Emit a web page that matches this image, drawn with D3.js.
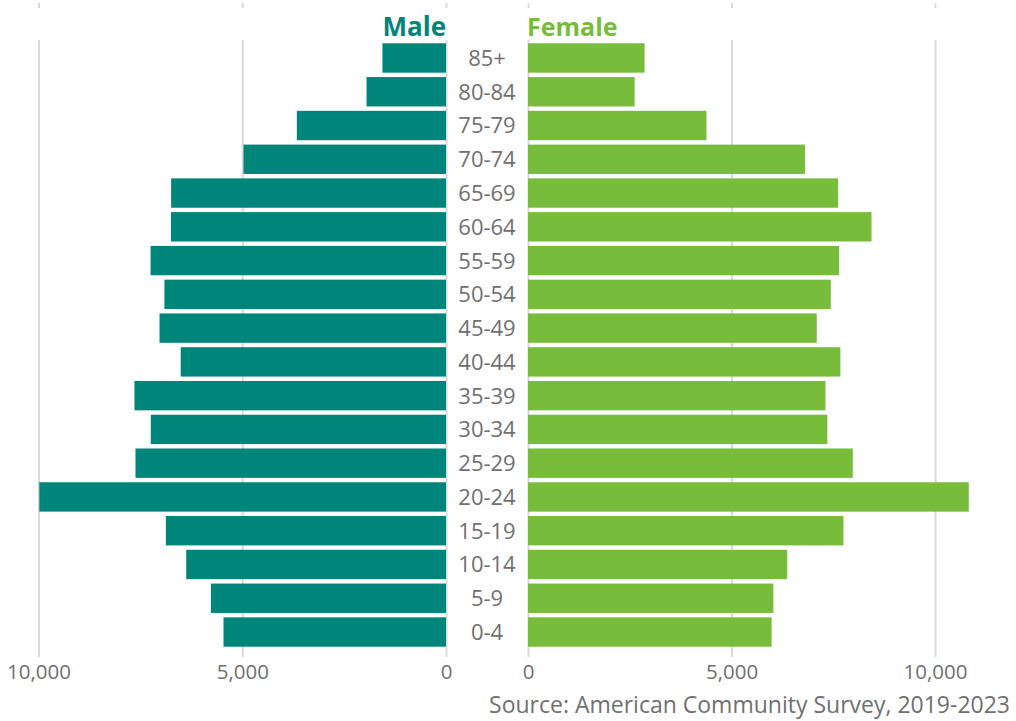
<!DOCTYPE html>
<html>
<head>
<meta charset="utf-8">
<script src="https://cdn.jsdelivr.net/npm/d3@7"></script>
<style>
  html, body { margin: 0; padding: 0; background: #ffffff; }
  svg { display: block; }
  text { font-family: "Open Sans", "Noto Sans", sans-serif; }
</style>
</head>
<body>
<svg id="chart" width="1016" height="721"></svg>
<script>
// Age groups, oldest at the top
const ageGroups = ["85+", "80-84", "75-79", "70-74", "65-69", "60-64", "55-59", "50-54",
  "45-49", "40-44", "35-39", "30-34", "25-29", "20-24", "15-19", "10-14", "5-9", "0-4"];

// Population counts by age group
const maleValues = [1560, 1950, 3660, 4970, 6745, 6750, 7250, 6910,
  7030, 6510, 7645, 7245, 7620, 9980, 6875, 6375, 5770, 5460];
const femaleValues = [2865, 2620, 4385, 6805, 7620, 8440, 7645, 7440,
  7095, 7675, 7310, 7355, 7980, 10830, 7750, 6370, 6030, 5985];

const tickValues = [0, 5000, 10000];
const seriesNames = ["Male", "Female"];
const sourceNote = "Source: American Community Survey, 2019-2023";

const colors = { male: "#00857a", female: "#78bc3b", text: "#707070", grid: "#d9d9d9" };

const svg = d3.select("#chart");

const xMale = d3.scaleLinear().domain([0, 10000]).range([446, 38.5]);
const xFemale = d3.scaleLinear().domain([0, 10000]).range([528, 935]);
const y = d3.scaleBand().domain(ageGroups).range([41.1, 648.9])
  .paddingInner(0.13).paddingOuter(0.065);

const gridTop = 40, gridBottom = 657;

// Vertical gridlines drawn by the axes
function gridAxis(scale) {
  return d3.axisBottom(scale).tickValues(tickValues)
    .tickSize(gridBottom - gridTop).tickFormat("");
}
[xMale, xFemale].forEach(sc => {
  const g = svg.append("g").attr("transform", `translate(0,${gridTop})`).call(gridAxis(sc));
  g.select(".domain").remove();
  g.selectAll(".tick line").attr("stroke", colors.grid).attr("stroke-width", 2);
  // short tick stubs along the top edge
  const t = svg.append("g").attr("transform", "translate(0,3)")
    .call(d3.axisBottom(sc).tickValues(tickValues).tickSize(5).tickFormat(""));
  t.select(".domain").remove();
  t.selectAll(".tick line").attr("stroke", colors.grid).attr("stroke-width", 2);
});

// Bars
svg.append("g").selectAll("rect").data(ageGroups).join("rect")
  .attr("x", (d, i) => xMale(maleValues[i]))
  .attr("y", d => y(d))
  .attr("width", (d, i) => xMale(0) - xMale(maleValues[i]))
  .attr("height", y.bandwidth())
  .attr("fill", colors.male);

svg.append("g").selectAll("rect").data(ageGroups).join("rect")
  .attr("x", xFemale(0))
  .attr("y", d => y(d))
  .attr("width", (d, i) => xFemale(femaleValues[i]) - xFemale(0))
  .attr("height", y.bandwidth())
  .attr("fill", colors.female);

// Age group labels in the middle gap
svg.append("g").selectAll("text").data(ageGroups).join("text")
  .attr("x", 487)
  .attr("y", d => y(d) + y.bandwidth() / 2)
  .attr("dy", "0.36em")
  .attr("text-anchor", "middle")
  .attr("font-size", 22)
  .attr("fill", colors.text)
  .text(d => d);

// Bottom tick labels
function labelAxis(scale) {
  const g = svg.append("g").attr("transform", "translate(0,657)")
    .call(d3.axisBottom(scale).tickValues(tickValues).tickSize(0).tickPadding(0)
      .tickFormat(d3.format(",")));
  g.select(".domain").remove();
  g.selectAll(".tick text")
    .attr("y", 22)
    .attr("dy", 0)
    .attr("font-size", 20.5)
    .attr("font-family", "'Open Sans', sans-serif")
    .attr("fill", colors.text);
}
labelAxis(xMale);
labelAxis(xFemale);

// Series titles
svg.append("text")
  .attr("x", 446).attr("y", 36)
  .attr("text-anchor", "end")
  .attr("font-size", 26).attr("font-weight", 700)
  .attr("fill", colors.male)
  .text(seriesNames[0]);
svg.append("text")
  .attr("x", 527).attr("y", 36)
  .attr("text-anchor", "start")
  .attr("font-size", 25).attr("font-weight", 700)
  .attr("fill", colors.female)
  .text(seriesNames[1]);

// Source note
svg.append("text")
  .attr("x", 1010).attr("y", 713)
  .attr("text-anchor", "end")
  .attr("font-size", 23)
  .attr("fill", colors.text)
  .text(sourceNote);
</script>
</body>
</html>
